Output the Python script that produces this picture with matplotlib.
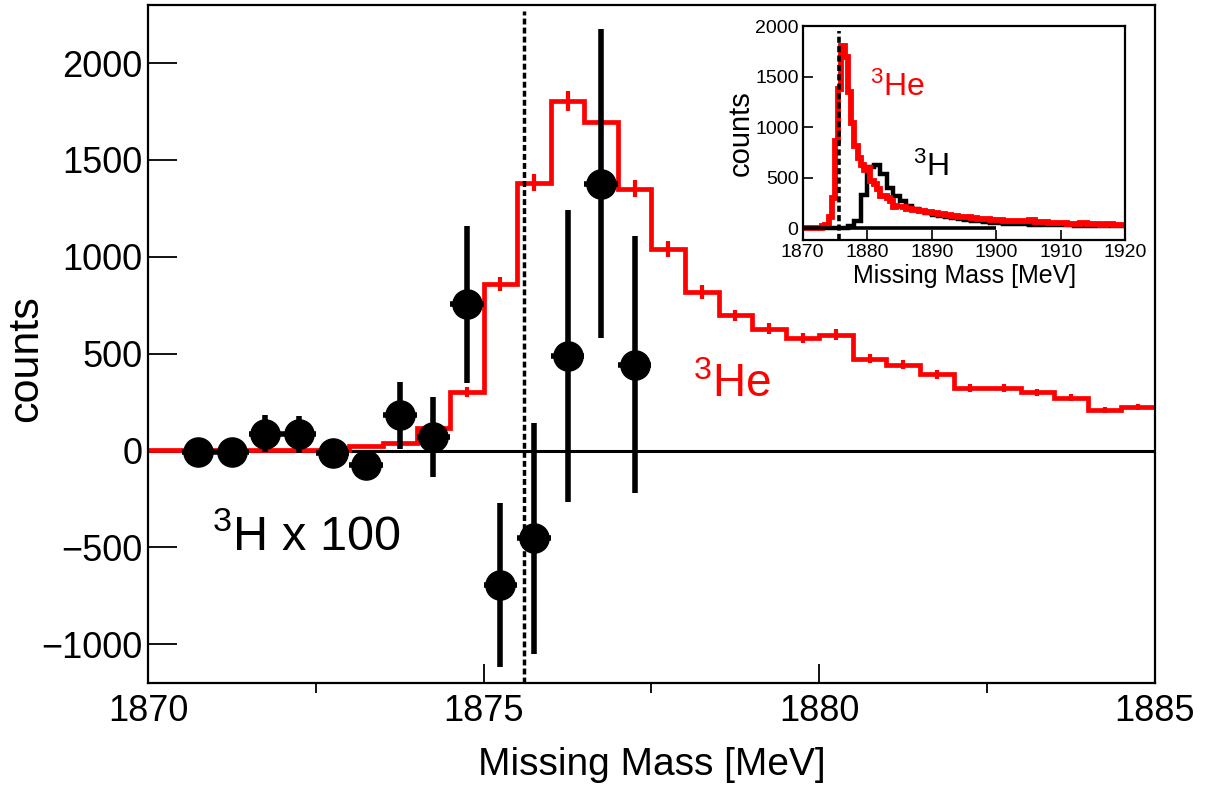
import matplotlib
matplotlib.use('Agg')
import matplotlib.pyplot as plt
import numpy as np

plt.rcParams['font.family'] = ['Liberation Sans', 'DejaVu Sans']
plt.rcParams['mathtext.fontset'] = 'custom'
plt.rcParams['mathtext.rm'] = 'Liberation Sans'

# 3He spectrum, 0.5 MeV bins from 1870 to 1885
he3_edges = np.arange(1870.0, 1885.01, 0.5)
he3_counts = [5, 5, 5, 5, 5, 5, 22, 38, 117, 301,
              861, 1383, 1805, 1697, 1352, 1039, 818, 698, 629, 582,
              599, 474, 444, 393, 322, 322, 301, 272, 210, 224]
he3_err = [5, 5, 5, 5, 5, 5, 8, 10, 15, 26,
           35, 45, 52, 48, 45, 42, 35, 30, 28, 26,
           27, 24, 23, 22, 20, 20, 19, 18, 16, 15]

# 3He tail for the inset, 1 MeV bins from 1885 to 1920
tail_edges = np.arange(1886.0, 1920.01, 1.0)
he3_tail = [210, 195, 185, 170, 160, 150, 140, 130, 122, 115,
            108, 100, 95, 90, 85, 80, 76, 72, 70, 75,
            82, 66, 60, 57, 55, 50, 48, 46, 50, 43,
            40, 38, 40, 35, 33]

# 3H spectrum for the inset, 1 MeV bins from 1870 to 1920
h3_edges = np.arange(1870.0, 1920.01, 1.0)
h3_counts = [0, 0, 0, 0, 0, 3, 8, 20, 70, 330,
             610, 630, 540, 400, 320, 270, 225, 195, 170, 150,
             135, 120, 110, 100, 92, 85, 78, 70, 64, 58,
             52, 48, 45, 42, 40, 38, 36, 34, 33, 32,
             30, 29, 28, 27, 26, 25, 25, 24, 23, 22]

# 3H x 100 points
h3_x = [1870.75, 1871.25, 1871.75, 1872.25, 1872.75, 1873.25, 1873.75,
        1874.25, 1874.75, 1875.25, 1875.75, 1876.25, 1876.75, 1877.25]
h3_y = [-5, -10, 86, 83, -12, -74, 181, 69, 755, -694, -453, 487, 1378, 443]
h3_yerr = [20, 20, 95, 95, 30, 40, 175, 205, 405, 424, 597, 755, 796, 662]
h3_xerr = 0.25

threshold = 1875.6

fig = plt.figure(figsize=(12.3, 7.91), dpi=100)

# main panel
ax = fig.add_axes([0.1203, 0.1365, 0.8187, 0.8572])
ax.axhline(0, color='black', lw=2.2, zorder=1)
ax.stairs(he3_counts, he3_edges, baseline=None, color='red', lw=3.4, zorder=2)
centers = 0.5 * (he3_edges[:-1] + he3_edges[1:])
ax.errorbar(centers, he3_counts, yerr=he3_err, fmt='none', ecolor='red',
            elinewidth=3, capsize=0, zorder=2)
ax.vlines(threshold, -1200, 2270, colors='black', lw=2.5,
          linestyles=(0, (1.7, 0.9)), zorder=3)
ax.errorbar(h3_x, h3_y, xerr=h3_xerr, yerr=h3_yerr, fmt='o', color='black',
            markersize=21, elinewidth=4, capsize=0, zorder=4)

ax.set_xlim(1870, 1885)
ax.set_ylim(-1200, 2300)
ax.set_xticks([1870, 1875, 1880, 1885])
ax.set_xticks([1872.5, 1877.5, 1882.5], minor=True)
ax.set_yticks([-1000, -500, 0, 500, 1000, 1500, 2000])
ax.tick_params(direction='in', width=1.3)
ax.tick_params(axis='y', which='major', length=21, labelsize=26, pad=4)
ax.tick_params(axis='x', which='major', length=14, labelsize=26, pad=8)
ax.tick_params(axis='x', which='minor', length=7, width=1.3)
for s in ax.spines.values():
    s.set_linewidth(1.6)

ax.set_xlabel('Missing Mass [MeV]', fontsize=28)
ax.xaxis.set_label_coords(0.5, -0.094)
ax.set_ylabel('counts', fontsize=31)
ax.yaxis.set_label_coords(-0.101, 0.478)

ax.text(1878.12, 274, r'$\mathregular{^3}$He', color='red', fontsize=33)
ax.text(1870.95, -512, r'$\mathregular{^3}$H x 100', color='black', fontsize=35)

# inset
ax_in = fig.add_axes([0.6526, 0.6966, 0.2624, 0.2700])
ax_in.stairs(h3_counts, h3_edges, baseline=None, color='black', lw=3.2)
ax_in.hlines(0, 1870, 1900, colors='black', lw=2.6)
ax_in.stairs(he3_counts, he3_edges, baseline=None, color='red', lw=4.2)
ax_in.stairs(he3_tail, np.concatenate([[1885.0], tail_edges]), baseline=None,
             color='red', lw=4.2)
ax_in.vlines(threshold, -115, 1950, colors='black', lw=2.6,
             linestyles=(0, (1.7, 0.9)))
ax_in.set_xlim(1870, 1920)
ax_in.set_ylim(-115, 2000)
ax_in.set_xticks(np.arange(1870, 1921, 10))
ax_in.set_yticks([0, 500, 1000, 1500, 2000])
ax_in.tick_params(direction='in', length=7, width=1.2, labelsize=14, pad=3)
for s in ax_in.spines.values():
    s.set_linewidth(1.6)
ax_in.set_xlabel('Missing Mass [MeV]', fontsize=18, labelpad=2)
ax_in.set_ylabel('counts', fontsize=21, labelpad=0)
ax_in.text(1880.4, 1314, r'$\mathregular{^3}$He', color='red', fontsize=23)
ax_in.text(1887.1, 515, r'$\mathregular{^3}$H', color='black', fontsize=23)

fig.savefig('out.png', dpi=100)
